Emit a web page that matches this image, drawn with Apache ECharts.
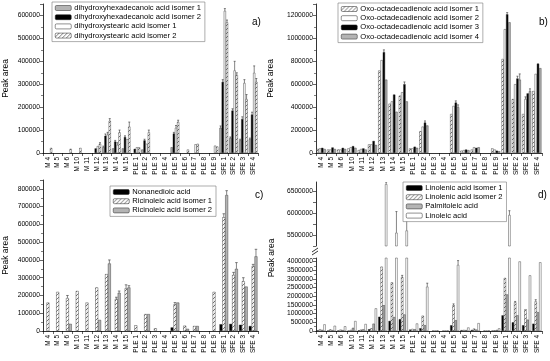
<!DOCTYPE html>
<html><head><meta charset="utf-8">
<script src="https://cdn.jsdelivr.net/npm/echarts@6/dist/echarts.min.js"></script>
<style>html,body{margin:0;padding:0;background:#fff}#c{width:550px;height:361px}</style>
</head><body><div id="c"></div>
<script>
const categories = ['M 4','M 5','M 6','M 10','M 11','M 12','M 13','M 14','M 15','PLE 1','PLE 2','PLE 3','PLE 4','PLE 5','PLE 6','PLE 7','PLE 8','PLE 9','SFE 1','SFE 2','SFE 3','SFE 4'];

// panel a
const aNames = ['dihydroxyhexadecanoic acid isomer 1','dihydroxyhexadecanoic acid isomer 2','dihydroxystearic acid isomer 1','dihydroxystearic acid isomer 2'];
const aS1 = [0,0,0,0,0,0,25000,20000,20000,0,15000,0,0,25000,0,0,0,0,110000,65000,55000,60000];
const aS2 = [0,0,0,0,0,20000,75000,50000,70000,18000,55000,0,0,85000,0,0,0,0,310000,185000,148000,168000];
const aS3 = [0,0,0,0,0,30000,80000,35000,60000,25000,40000,0,0,110000,0,38000,0,32000,620000,360000,305000,350000];
const aS4 = [22000,0,18000,22000,0,40000,140000,90000,115000,25000,90000,0,0,135000,15000,40000,0,28000,570000,340000,235000,310000];
const aE1 = [0,0,0,0,0,0,5000,0,0,0,0,0,0,0,0,0,0,0,8000,5000,5000,5000];
const aE2 = [0,0,0,0,0,0,8000,5000,5000,0,5000,0,0,5000,0,0,0,0,10000,8000,10000,10000];
const aE3 = [0,0,0,0,0,0,10000,10000,0,0,0,0,0,10000,0,0,0,0,10000,40000,15000,30000];
const aE4 = [0,0,0,0,0,5000,10000,10000,20000,0,10000,0,0,8000,0,0,0,0,10000,10000,20000,15000];

// panel b
const bNames = ['Oxo-octadecadienoic acid isomer 1','Oxo-octadecadienoic acid isomer 2','Oxo-octadecadienoic acid isomer 3','Oxo-octadecadienoic acid isomer 4'];
const bS1 = [35000,30000,30000,40000,25000,75000,720000,430000,500000,40000,190000,0,0,340000,20000,30000,0,40000,820000,470000,340000,540000];
const bS2 = [40000,30000,30000,50000,35000,75000,810000,450000,530000,40000,230000,0,0,410000,25000,50000,0,30000,1080000,600000,470000,690000];
const bS3 = [45000,48000,45000,60000,40000,105000,880000,510000,600000,55000,265000,0,0,440000,30000,45000,0,20000,1210000,650000,520000,780000];
const bS4 = [35000,35000,35000,45000,30000,70000,640000,360000,450000,45000,240000,0,0,400000,25000,50000,0,15000,1140000,640000,540000,740000];
const bE2 = [0,0,0,0,0,0,0,0,0,0,0,0,0,0,0,0,0,0,0,0,20000,0];
const bE3 = [0,0,0,0,0,0,20000,0,20000,0,15000,0,0,15000,0,0,0,0,15000,20000,0,0];
const bE4 = [0,0,0,0,0,0,0,0,0,0,0,0,0,20000,0,0,0,0,0,50000,20000,0];

// panel c
const cNames = ['Nonanedioic acid','Ricinoleic acid isomer 1','Ricinoleic acid isomer 2'];
const cS1 = [0,0,0,0,0,0,0,0,0,0,0,0,0,20000,0,0,0,0,38000,40000,35000,28000];
const cS2 = [160000,220000,185000,225000,160000,245000,320000,180000,240000,32000,95000,15000,0,150000,30000,28000,0,220000,640000,315000,280000,365000];
const cS3 = [0,0,40000,0,0,62000,380000,215000,245000,0,95000,0,0,160000,12000,28000,0,0,765000,350000,250000,420000];
const cE2 = [0,0,15000,0,0,0,0,10000,20000,0,0,0,0,10000,0,0,0,0,20000,15000,20000,10000];
const cE3 = [0,0,0,0,0,0,20000,10000,10000,0,0,0,0,0,0,0,0,0,25000,35000,0,40000];
const cTicks = [0,100000,200000,300000,400000,500000,600000,700000,800000];

// panel d
const dNames = ['Linolenic acid isomer 1','Linolenic acid isomer 2','Palmitoleic acid','Linoleic acid'];
const dS1 = [40000,30000,30000,20000,40000,100000,820000,580000,680000,80000,160000,0,0,330000,50000,60000,0,20000,900000,500000,330000,420000];
const dS2 = [100000,90000,80000,60000,80000,150000,3700000,2800000,3100000,120000,880000,20000,10000,1480000,60000,140000,20000,40000,3050000,1650000,1250000,1700000];
const dS3 = [60000,50000,50000,180000,100000,420000,1480000,800000,950000,100000,330000,10000,10000,620000,50000,80000,10000,60000,2100000,900000,650000,1080000];
const dS4 = [380000,300000,270000,570000,400000,1300000,6650000,5550000,5600000,430000,2550000,30000,20000,3800000,200000,450000,20000,150000,5950000,4000000,3200000,3950000];
const dE2 = [0,0,0,0,0,0,0,0,100000,0,0,0,0,80000,0,0,0,0,0,50000,0,100000];
const dE4 = [0,0,0,0,0,0,50000,480000,300000,0,200000,0,0,250000,0,0,0,0,100000,0,0,0];

function hatch(){
  const c = document.createElement('canvas'); c.width = 4; c.height = 4;
  const g = c.getContext('2d'); g.fillStyle = '#fff'; g.fillRect(0,0,4,4);
  g.strokeStyle = '#555'; g.lineWidth = 0.8;
  g.beginPath(); g.moveTo(0,4); g.lineTo(4,0); g.moveTo(-1,1); g.lineTo(1,-1); g.moveTo(3,5); g.lineTo(5,3); g.stroke();
  return {image: c, repeat: 'repeat'};
}
const HATCH = hatch();
const GREY = '#b4b4b4', BLACK = '#000', WHITE = '#fff';
const FONT = 'Liberation Sans';
const CAT_GAP = 0.12;

const gridsDef = [
  {left:41, right:292, top:4, bottom:208},
  {left:316, right:8, top:4, bottom:208},
  {left:41, right:292, top:180, bottom:30},
  {left:316, right:8, top:258, bottom:30},
  {left:316, right:8, top:182, bottom:115}
];
const fmt = v => String(v);
function xAx(gi){
  return {type:'category', gridIndex:gi, data:categories,
    axisLine:{lineStyle:{color:'#000', width:0.8}},
    axisTick:{show:true, length:3, lineStyle:{color:'#000', width:0.6}},
    axisLabel:{rotate:90, fontSize:6.5, color:'#000', fontFamily:FONT, margin:4, interval:0}};
}
function yAx(gi, max, interval, name, nameGap, extra){
  return Object.assign({type:'value', gridIndex:gi, min:0, max:max, interval:interval,
    name:name, nameLocation:'middle', nameGap:nameGap, nameRotate:90,
    nameTextStyle:{fontSize:8.5, color:'#000', fontFamily:FONT},
    axisLine:{show:true, lineStyle:{color:'#000', width:0.8}},
    axisTick:{show:true, length:3, lineStyle:{color:'#000', width:0.6}},
    minorTick:{show:true, splitNumber:2, length:2, lineStyle:{color:'#000', width:0.5}},
    splitLine:{show:false},
    axisLabel:{fontSize:6.7, color:'#000', fontFamily:FONT, margin:3, formatter:fmt, showMaxLabel:false}}, extra||{});
}
const nz = arr => arr.map(v => v > 0 ? v : '-');
function bars(name, data, color, xi, yi){
  return {type:'bar', name:name, xAxisIndex:xi, yAxisIndex:yi, data:nz(data),
    barGap:'0%', barCategoryGap:(CAT_GAP*100)+'%',
    itemStyle:{color:color, borderColor:'#222', borderWidth:0.4}, animation:false};
}
function errBars(vals, errs, idx, n, xi, yi){
  const data = [];
  vals.forEach((v,k)=>{ if (v > 0 && errs[k] > 0) data.push([k, v, v + errs[k]]); });
  return {type:'custom', xAxisIndex:xi, yAxisIndex:yi, data:data, silent:true, clip:true, z:3,
    renderItem:function(params, api){
      const band = api.size([1,0])[0];
      const gw = band*(1-CAT_GAP), bw = gw/n;
      const p0 = api.coord([api.value(0), api.value(1)]);
      const p1 = api.coord([api.value(0), api.value(2)]);
      const x = p0[0] - gw/2 + (idx+0.5)*bw;
      const cap = Math.max(bw*0.9, 2);
      return {type:'group', children:[
        {type:'line', shape:{x1:x, y1:p0[1], x2:x, y2:p1[1]}, style:{stroke:'#333', lineWidth:0.6}},
        {type:'line', shape:{x1:x-cap/2, y1:p1[1], x2:x+cap/2, y2:p1[1]}, style:{stroke:'#333', lineWidth:0.6}}
      ]};
    }};
}
function legend(names, left, top){
  return {data:names, left:left, top:top, orient:'vertical', itemWidth:16, itemHeight:5, itemGap:1.2,
    padding:[2,4,2,3], borderColor:'#777', borderWidth:0.6, backgroundColor:'#fff',
    textStyle:{fontSize:7.6, color:'#000', fontFamily:FONT, lineHeight:6.5, padding:[0,0,0,-2]},
    itemStyle:{borderColor:'#222', borderWidth:0.5}, selectedMode:false};
}
const aCols = [GREY, BLACK, WHITE, HATCH];
const bCols = [HATCH, WHITE, BLACK, GREY];
const cCols = [BLACK, HATCH, GREY];
const dCols = [BLACK, HATCH, GREY, WHITE];
const dHigh = arr => arr.map(v => v > 5250000 ? v : '-');

const series = [];
[aS1,aS2,aS3,aS4].forEach((d,i)=>series.push(bars(aNames[i], d, aCols[i], 0, 0)));
[bS1,bS2,bS3,bS4].forEach((d,i)=>series.push(bars(bNames[i], d, bCols[i], 1, 1)));
[cS1,cS2,cS3].forEach((d,i)=>series.push(bars(cNames[i], d, cCols[i], 2, 2)));
[dS1,dS2,dS3,dS4].forEach((d,i)=>series.push(bars(dNames[i], d, dCols[i], 3, 3)));
[dS1,dS2,dS3,dS4].forEach((d,i)=>{ const s = bars(dNames[i], d, dCols[i], 4, 4); s.data = dHigh(d); series.push(s); });
// error bars
[[aS1,aE1,0],[aS2,aE2,1],[aS3,aE3,2],[aS4,aE4,3]].forEach(t=>series.push(errBars(t[0],t[1],t[2],4,0,0)));
[[bS2,bE2,1],[bS3,bE3,2],[bS4,bE4,3]].forEach(t=>series.push(errBars(t[0],t[1],t[2],4,1,1)));
[[cS2,cE2,1],[cS3,cE3,2]].forEach(t=>series.push(errBars(t[0],t[1],t[2],3,2,2)));
[[dS2,dE2,1],[dS4,dE4,3]].forEach(t=>{ series.push(errBars(t[0],t[1],t[2],4,3,3)); series.push(errBars(t[0],t[1],t[2],4,4,4)); });

const chart = echarts.init(document.getElementById('c'), null, {renderer:'canvas'});
chart.setOption({
  animation:false,
  textStyle:{fontFamily:FONT},
  grid: gridsDef,
  xAxis:[xAx(0), xAx(1), xAx(2), xAx(3), Object.assign(xAx(4), {show:false})],
  yAxis:[
    yAx(0, 650000, 100000, 'Peak area', 33),
    yAx(1, 1300000, 200000, 'Peak area', 41),
    yAx(2, 850000, 100000, 'Peak area', 33),
    yAx(3, 4200000, 500000, '', 30),
    yAx(4, 6700000, 250000, '', 30, {min:5250000, minorTick:{show:false},
      axisLabel:{fontSize:6.7, color:'#000', fontFamily:FONT, margin:3, showMaxLabel:false,
        formatter: v => (v % 500000 === 0 ? String(v) : '')}})
  ],
  legend:[
    legend(aNames, 52, 2),
    legend(bNames, 338, 3),
    legend(cNames, 110, 186),
    legend(dNames, 403, 182)
  ],
  title:[
    {text:'a)', left:247, top:12, textStyle:{fontSize:10, fontWeight:'normal', color:'#000', fontFamily:FONT}},
    {text:'b)', left:534, top:12, textStyle:{fontSize:10, fontWeight:'normal', color:'#000', fontFamily:FONT}},
    {text:'c)', left:250, top:185, textStyle:{fontSize:10, fontWeight:'normal', color:'#000', fontFamily:FONT}},
    {text:'d)', left:533, top:185, textStyle:{fontSize:10, fontWeight:'normal', color:'#000', fontFamily:FONT}}
  ],
  graphic:[
    {type:'text', x:272, y:258, rotation:Math.PI/2, style:{text:'Peak area', fontSize:8.5, fill:'#000', fontFamily:FONT, textAlign:'center', textVerticalAlign:'middle'}},
    {type:'line', shape:{x1:312, y1:252, x2:318, y2:248}, style:{stroke:'#000', lineWidth:0.8}},
    {type:'line', shape:{x1:312, y1:255, x2:318, y2:251}, style:{stroke:'#000', lineWidth:0.8}}
  ],
  series: series
});
</script></body></html>
